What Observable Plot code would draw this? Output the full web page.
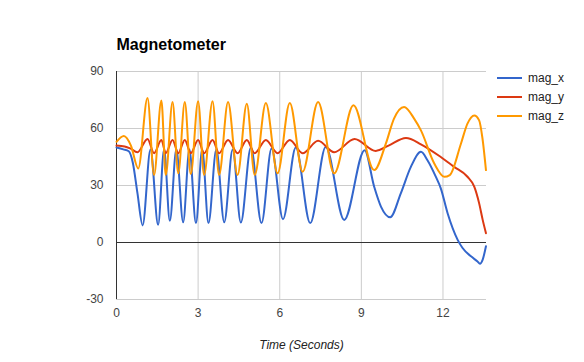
<!DOCTYPE html>
<html>
<head>
<meta charset="utf-8">
<script src="https://cdn.jsdelivr.net/npm/d3@7"></script>
<script src="https://cdn.jsdelivr.net/npm/@observablehq/plot@0.6"></script>
<style>
  html, body { margin: 0; padding: 0; background: #fff; }
  #wrap { position: relative; width: 584px; height: 362px; font-family: Arial, "Liberation Sans", sans-serif; }
  #legend { position: absolute; left: 497px; top: 68px; font-size: 12px; color: #222; }
  .row { display: flex; align-items: center; height: 19px; }
  .sw { width: 25px; height: 2px; margin-right: 6px; }
</style>
</head>
<body>
<div id="wrap"><div id="legend"></div></div>
<script>
// ---- data ----
const seriesNames = ["mag_x", "mag_y", "mag_z"];
const seriesColors = ["#3366cc", "#dc3912", "#ff9900"];
const xTicks = [0, 3, 6, 9, 12];
const yTicks = [-30, 0, 30, 60, 90];
const titleText = "Magnetometer";
const xAxisTitle = "Time (Seconds)";

const timeX = [0, 0.25, 0.45, 0.6, 0.77, 0.96, 1.25, 1.53, 1.75, 1.96, 2.2, 2.45, 2.68, 2.92, 3.15, 3.38, 3.67, 3.96, 4.27, 4.57, 4.94, 5.33, 5.7, 6.12, 6.59, 7.12, 7.69, 8.37, 9.12, 9.47, 9.72, 10.06, 10.45, 10.82, 11.19, 11.43, 11.74, 11.92, 12.17, 12.54, 12.72, 13.03, 13.27, 13.36, 13.46, 13.58];
const magX  = [50, 49, 48, 42, 26, 9, 49, 9.3, 49, 11.4, 49, 10.7, 49, 10.2, 49, 10.2, 49, 10.7, 49, 10.5, 50, 10.2, 49.5, 12.3, 50, 10.2, 50.3, 11.9, 48.6, 29.4, 18.9, 13.3, 25.9, 39.8, 47.7, 43.3, 34.5, 28.5, 15.4, 1.4, -2.9, -7.3, -10, -11.2, -9, -2];

const timeY = [0, 0.3, 0.5, 0.77, 1.14, 1.38, 1.65, 1.81, 2.06, 2.27, 2.51, 2.73, 3.0, 3.22, 3.53, 3.77, 4.1, 4.45, 4.79, 5.08, 5.49, 5.92, 6.37, 6.84, 7.41, 8.0, 8.75, 9.53, 10.0, 10.64, 11.19, 11.92, 12.41, 12.9, 13.15, 13.33, 13.46, 13.58];
const magY  = [51, 50.5, 49.5, 47.5, 54.5, 47, 54, 47, 54, 47, 54, 47, 54, 47, 54, 47, 54, 47, 54, 47, 54, 47, 54, 47, 53.5, 47.5, 54.5, 48.2, 51, 55, 51.7, 45, 39.8, 34.6, 29.4, 20.6, 11.9, 4.9];

const timeZ = [0, 0.27, 0.53, 0.8, 1.14, 1.38, 1.65, 1.81, 2.06, 2.27, 2.51, 2.73, 3.0, 3.22, 3.53, 3.77, 4.1, 4.45, 4.79, 5.08, 5.49, 5.92, 6.37, 6.84, 7.41, 8.0, 8.71, 9.47, 9.9, 10.2, 10.57, 10.94, 11.19, 11.68, 12.05, 12.25, 12.66, 12.9, 13.15, 13.33, 13.45, 13.58];
const magZ  = [53, 56, 51, 39, 76, 35.5, 74.8, 35.5, 73.9, 36.4, 73.9, 36, 74.4, 35.5, 74.4, 35.5, 73.9, 35.5, 73, 35.5, 73.4, 36.4, 73.4, 37.2, 73.9, 36.4, 72.2, 38.1, 52, 65.2, 71.3, 65.2, 59, 41.6, 34.6, 35.5, 52, 62.6, 66.9, 64.3, 55, 38.1];

// ---- build table ----
const seriesData = [
  {name: seriesNames[0], t: timeX, v: magX},
  {name: seriesNames[1], t: timeY, v: magY},
  {name: seriesNames[2], t: timeZ, v: magZ}
];
const rows = seriesData.flatMap(s => s.t.map((t, i) => ({time: t, value: s.v[i], series: s.name})));

const chart = Plot.plot({
  width: 584,
  height: 362,
  marginLeft: 116,
  marginRight: 98,
  marginTop: 71,
  marginBottom: 63,
  style: {fontFamily: "Arial, 'Liberation Sans', sans-serif", fontSize: "12px", background: "#fff", color: "#444"},
  x: {domain: [0, 13.6], label: null},
  y: {domain: [-30, 90], label: null},
  color: {domain: seriesNames, range: seriesColors},
  marks: [
    Plot.gridX(xTicks, {stroke: "#cccccc", strokeOpacity: 1}),
    Plot.gridY(yTicks, {stroke: "#cccccc", strokeOpacity: 1}),
    Plot.ruleY([0], {stroke: "#333"}),
    Plot.ruleX([0], {stroke: "#333"}),
    Plot.axisX(xTicks, {tickSize: 0, tickPadding: 9, fill: "#444", label: null, tickFormat: d => String(d)}),
    Plot.axisY(yTicks, {tickSize: 0, tickPadding: 13, fill: "#444", label: null, tickFormat: d => String(d)}),
    Plot.line(rows, {x: "time", y: "value", z: "series", stroke: "series", strokeWidth: 2, curve: "monotone-x"}),
    Plot.text([titleText], {frameAnchor: "top-left", dy: -22, textAnchor: "start", lineAnchor: "bottom", fontWeight: "bold", fontSize: 16, fill: "#000"}),
    Plot.text([xAxisTitle], {frameAnchor: "bottom", dy: 46, lineAnchor: "middle", fontStyle: "italic", fill: "#222"})
  ]
});
document.getElementById("wrap").prepend(chart);

const legend = document.getElementById("legend");
seriesNames.forEach((n, i) => {
  const row = document.createElement("div");
  row.className = "row";
  const sw = document.createElement("div");
  sw.className = "sw";
  sw.style.background = seriesColors[i];
  const lab = document.createElement("span");
  lab.textContent = n;
  row.append(sw, lab);
  legend.append(row);
});
</script>
</body>
</html>
